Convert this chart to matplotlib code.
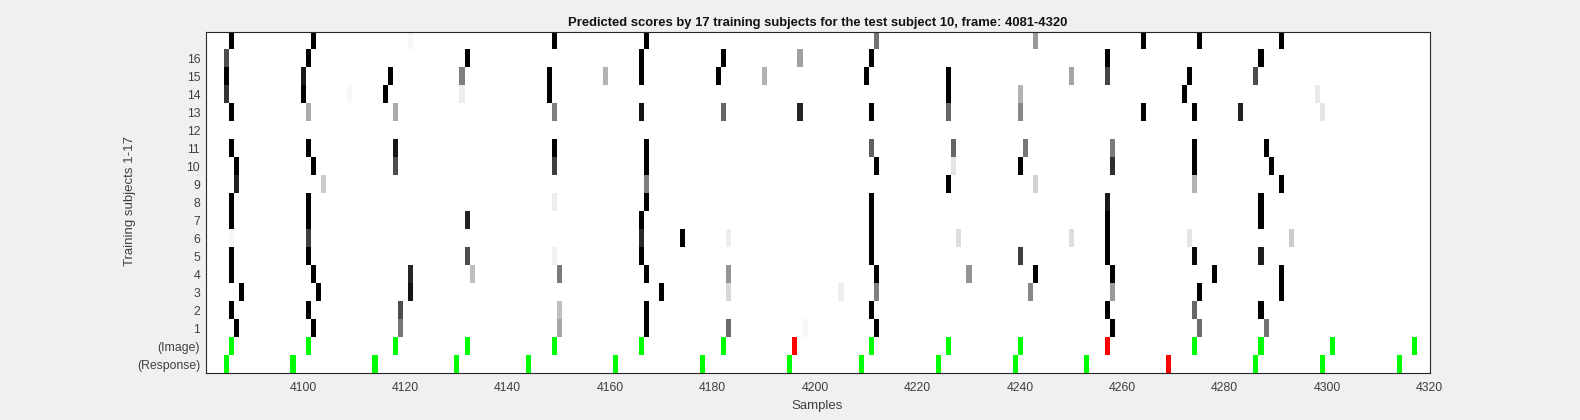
import numpy as np
import matplotlib
matplotlib.use("Agg")
import matplotlib.pyplot as plt

plt.rcParams['font.family'] = ['Liberation Sans', 'DejaVu Sans']

FIRST, LAST = 4081, 4320

# Grey level of every predicted score: 0 = black (strong), 1 = white (none)
s17 = {4086: 0, 4102: 0, 4121: .97, 4149: 0, 4167: 0, 4212: .45, 4243: .6, 4264: 0, 4275: 0, 4291: 0}
s16 = {4085: .3, 4101: 0, 4132: 0, 4166: 0, 4182: 0, 4197: .63, 4211: 0, 4257: 0, 4287: 0}
s15 = {4085: 0, 4100: .1, 4117: 0, 4131: .5, 4148: 0, 4159: .7, 4166: 0, 4181: 0, 4190: .7, 4210: 0,
       4226: 0, 4250: .65, 4257: .27, 4273: 0, 4286: .3}
s14 = {4085: .2, 4100: 0, 4109: .97, 4116: 0, 4131: .93, 4148: 0, 4226: 0, 4240: .7, 4272: 0, 4298: .92}
s13 = {4086: 0, 4101: .67, 4118: .67, 4149: .5, 4166: .08, 4182: .4, 4197: .15, 4211: 0, 4226: .4,
       4240: .53, 4264: 0, 4274: 0, 4283: .13, 4299: .9}
s12 = {}
s11 = {4086: 0, 4101: 0, 4118: .09, 4149: 0, 4167: 0, 4211: .38, 4227: .4, 4241: .47, 4258: .48, 4274: 0, 4288: 0}
s10 = {4087: 0, 4102: 0, 4118: .3, 4149: .25, 4167: 0, 4212: 0, 4227: .9, 4240: 0, 4258: .18, 4274: 0, 4289: 0}
s9 = {4087: .13, 4104: .8, 4167: .5, 4226: 0, 4243: .83, 4274: .7, 4291: 0}
s8 = {4086: 0, 4101: 0, 4149: .93, 4167: 0, 4211: 0, 4257: .1, 4287: 0}
s7 = {4086: 0, 4101: 0, 4132: .13, 4166: 0, 4211: 0, 4257: 0, 4287: 0}
s6 = {4086: .97, 4101: .25, 4166: .16, 4174: 0, 4183: .93, 4211: 0, 4228: .87, 4250: .87, 4257: 0, 4273: .9, 4293: .8}
s5 = {4086: 0, 4101: 0, 4132: .3, 4149: .95, 4166: 0, 4211: 0, 4240: .25, 4257: 0, 4274: .04, 4287: .12}
s4 = {4086: 0, 4102: 0, 4121: .15, 4133: .75, 4150: .48, 4167: 0, 4183: .58, 4212: 0, 4230: .58,
      4243: 0, 4258: 0, 4278: 0, 4291: 0}
s3 = {4088: 0, 4103: 0, 4121: .08, 4170: 0, 4183: .85, 4205: .93, 4212: .5, 4242: .53, 4258: .6, 4275: 0, 4291: 0}
s2 = {4086: 0, 4101: 0, 4119: .3, 4150: .75, 4167: 0, 4211: 0, 4257: 0, 4274: .4, 4287: 0}
s1 = {4087: 0, 4102: 0, 4119: .47, 4150: .65, 4167: 0, 4183: .42, 4198: .97, 4212: 0, 4258: 0, 4275: .43, 4288: .45}
subjects = [s17, s16, s15, s14, s13, s12, s11, s10, s9, s8, s7, s6, s5, s4, s3, s2, s1]

# Marker samples, green = matched, red = unmatched
image_green = [4086, 4101, 4118, 4132, 4149, 4166, 4182, 4211, 4226, 4240, 4274, 4287, 4301, 4317]
image_red = [4196, 4257]
response_green = [4085, 4098, 4114, 4130, 4144, 4161, 4178, 4195, 4209, 4224, 4239, 4253, 4286, 4299, 4314]
response_red = [4269]

y_labels = [''] + [str(n) for n in range(16, 0, -1)] + ['(Image)', '(Response)']
x_ticks = list(range(4100, 4321, 20))

n_rows = len(subjects) + 2
img = np.ones((n_rows, LAST - FIRST + 1, 3))
for r, subject in enumerate(subjects):
    for sample, grey in subject.items():
        img[r, sample - FIRST] = grey
for r, (green, red) in zip((17, 18), ((image_green, image_red), (response_green, response_red))):
    for sample in green:
        img[r, sample - FIRST] = (0, 1, 0)
    for sample in red:
        img[r, sample - FIRST] = (1, 0, 0)

W, H = 1580, 420
fig = plt.figure(figsize=(W / 100, H / 100), dpi=100, facecolor='#F0F0F0')
L, R, T, B = 205.7, 1429.5, 31.7, 373.3
ax = fig.add_axes([L / W, 1 - B / H, (R - L) / W, (B - T) / H])
ax.imshow(img, aspect='auto', interpolation='nearest',
          extent=(FIRST - .5, LAST + .5, n_rows - .5, -.5))
ax.set_xlim(FIRST, LAST)
ax.set_ylim(n_rows - .5, -.5)

tick_color = '#404040'
ax.set_xticks(x_ticks)
ax.set_yticks(np.arange(n_rows))
ax.set_yticklabels(y_labels)
ax.tick_params(axis='both', length=0, labelsize=8.8, labelcolor=tick_color)
ax.tick_params(axis='x', pad=6)
ax.tick_params(axis='y', pad=4)
for s in ax.spines.values():
    s.set_color('#262626')
    s.set_linewidth(0.8)

ax.set_xlabel('Samples', fontsize=9.5, color=tick_color)
ax.xaxis.set_label_coords(0.5, -0.078)
ax.set_ylabel('Training subjects 1-17', fontsize=9.5, color=tick_color)
ax.yaxis.set_label_coords(-0.0572, 0.505)
ax.set_title('Predicted scores by 17 training subjects for the test subject 10, frame: 4081-4320',
             fontsize=9.4, fontweight='bold', color='#111111', pad=4)

fig.savefig('out.png', dpi=100, facecolor=fig.get_facecolor())
